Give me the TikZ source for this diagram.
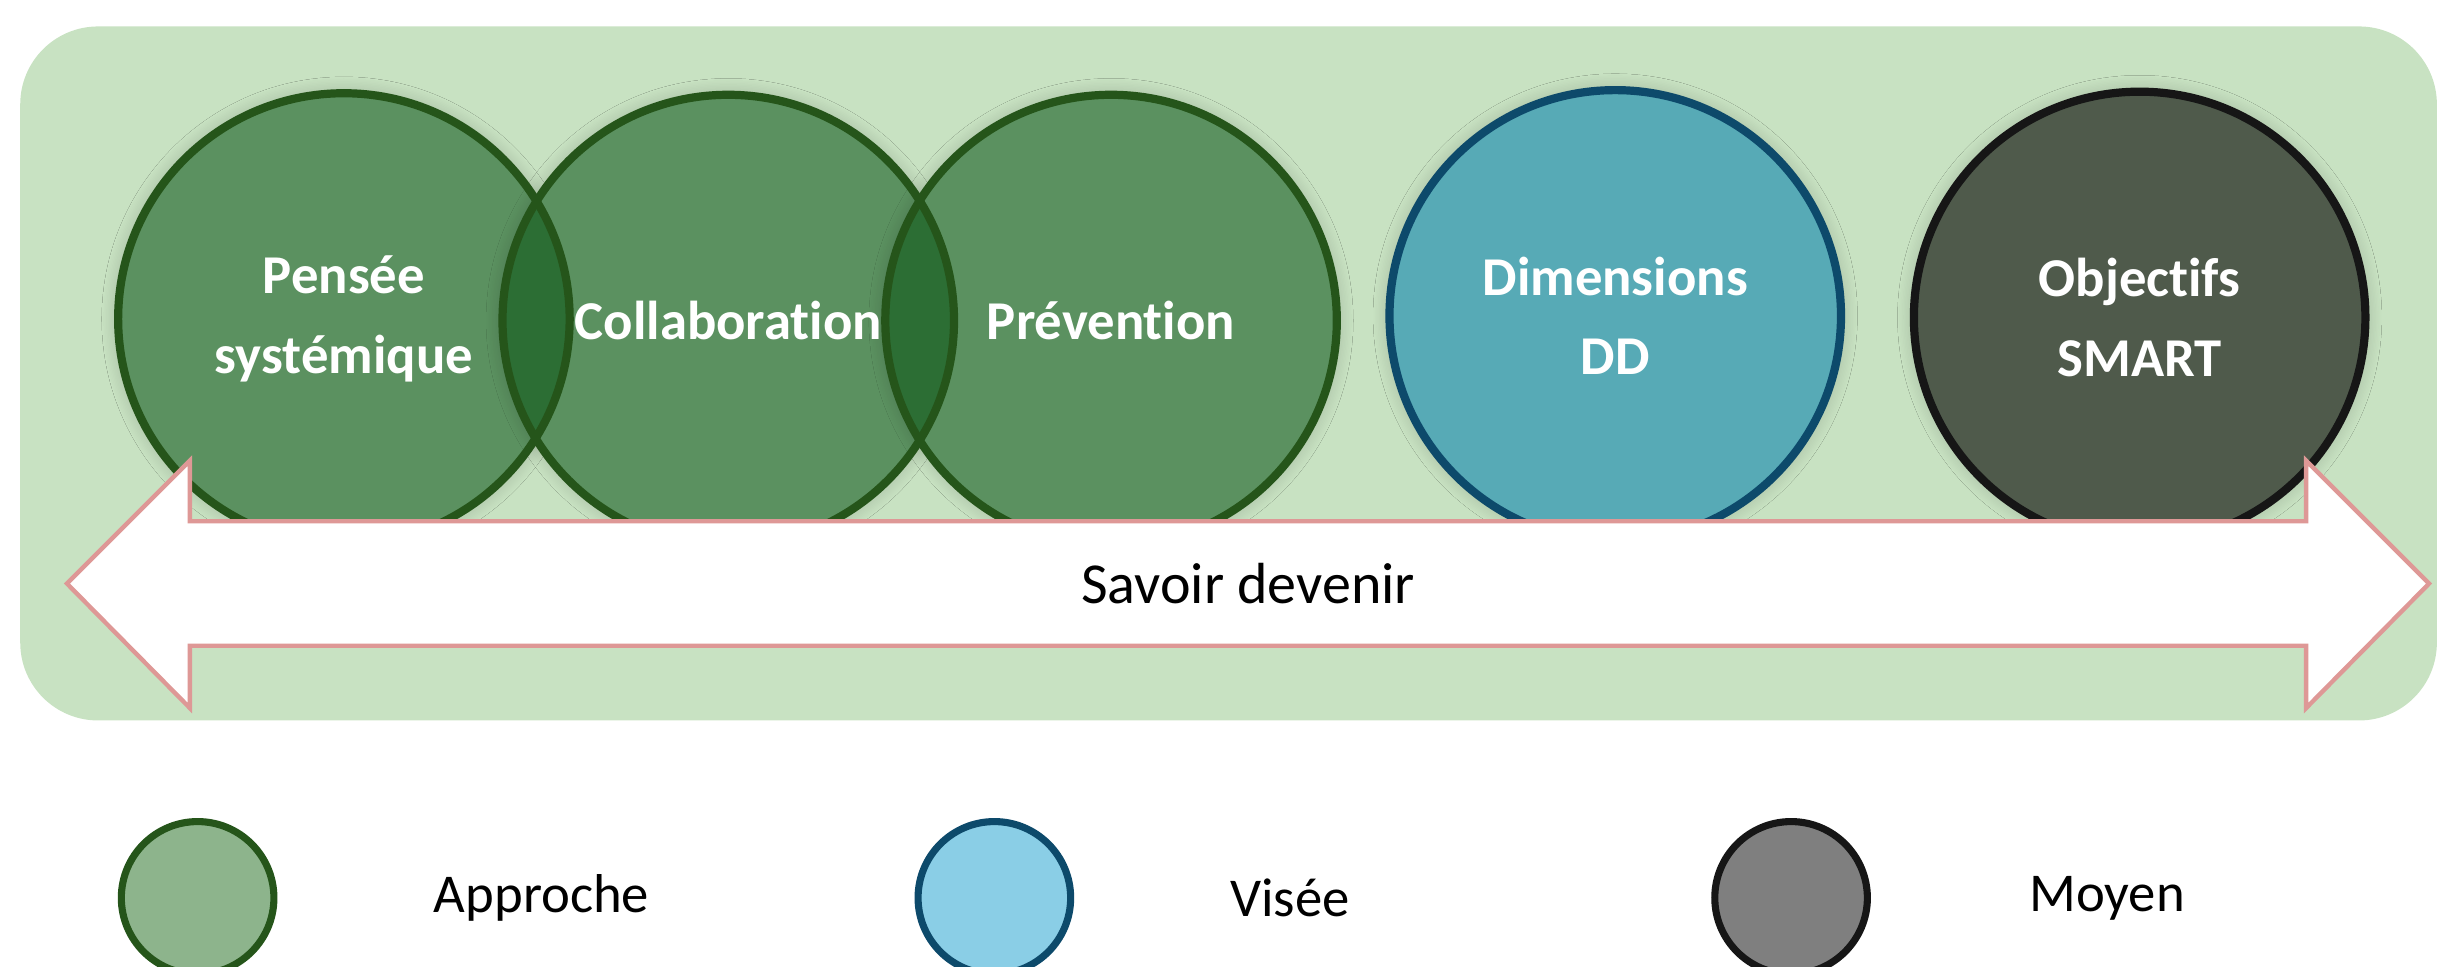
\documentclass[tikz,border=0pt]{standalone}
\usepackage{fontspec}
\setmainfont{Carlito}[RawFeature={-liga;-clig;-calt;-dlig}]
\usetikzlibrary{calc, positioning, shadows.blur}
\definecolor{fondvert}{HTML}{C8E2C2}
\definecolor{approvert}{HTML}{5B9160}
\definecolor{approbord}{HTML}{25551A}
\definecolor{approinter}{HTML}{2C6E34}
\definecolor{viseebleu}{HTML}{57AAB6}
\definecolor{viseebord}{HTML}{0D4A6B}
\definecolor{moyengris}{HTML}{4F5A4B}
\definecolor{moyenbord}{HTML}{161616}
\definecolor{flecherose}{HTML}{DE9896}
\definecolor{legappro}{HTML}{8DB48C}
\definecolor{legvisee}{HTML}{8ACEE6}
\definecolor{legmoyen}{HTML}{7F7F7F}

\begin{document}
\begin{tikzpicture}[x=0.01cm, y=-0.01cm]%{{{
        \useasboundingbox (0, 0) rectangle (1568, 620.8);

        % fond
        \fill [fondvert, rounded corners=0.5cm] (13, 17) rectangle (1566, 463);

        \coordinate (P1) at ( 221, 205);
        \coordinate (P2) at ( 468, 206);
        \coordinate (P3) at ( 714, 206);
        \coordinate (P4) at (1038, 203);
        \coordinate (P5) at (1375, 204);

        \tikzstyle{c} = [circle, minimum size=2.9cm, inner sep=0pt,
            blur shadow={shadow xshift=0pt, shadow yshift=0pt, shadow blur steps=12,
                shadow blur radius=3pt, shadow opacity=22}];
        \foreach \n/\col in {1/approvert, 2/approvert, 3/approvert,
                             4/viseebleu, 5/moyengris}{
            \node [c, fill=\col] (C\n) at (P\n) { };
        }

        % intersections
        \foreach \na/\nb in {1/2, 2/3}{
            \begin{scope}
                \clip (C\na.center) circle (1.45cm);
                \fill [approinter] (C\nb.center) circle (1.45cm);
            \end{scope}
        }

        \foreach \n/\bord in {1/approbord, 2/approbord, 3/approbord,
                              4/viseebord, 5/moyenbord}{
            \draw [\bord, line width=1.5pt] (C\n.center) circle (1.45cm);
        }

        \tikzstyle{t} = [text=white, align=center,
            font=\bfseries\fontsize{10}{14.5}\selectfont];
        \node [t] (T1) at (C1) {Pensée\\systémique};
        \node [t] (T2) at (C2) {Collaboration};
        \node [t] (T3) at (C3) {Prévention};
        \node [t] (T4) at (C4) {Dimensions\\DD};
        \node [t] (T5) at (C5) {Objectifs\\SMART};

        % fleche
        \draw [flecherose, fill=white, line width=0.8pt]
            (43, 375) -- (122, 296) -- (122, 335) -- (1482, 335)
            -- (1482, 296) -- (1561, 375) -- (1482, 455) -- (1482, 415)
            -- (122, 415) -- (122, 455) -- cycle;
        \node [font=\fontsize{10.6}{12}\selectfont] (SD) at (802, 375) {Savoir devenir};

        % legende
        \tikzstyle{l} = [circle, minimum size=0.98cm, inner sep=0pt, line width=1.3pt];
        \foreach \n/\x/\fcol/\bcol/\txt/\tx in {1/127/legappro/approbord/Approche/348,
                                               2/639/legvisee/viseebord/Visée/829,
                                               3/1151/legmoyen/moyenbord/Moyen/1354}{
            \node [l, fill=\fcol, draw=\bcol] (L\n) at (\x, 577) { };
            \node [font=\fontsize{10}{12}\selectfont] (LT\n) at (\tx, 577) {\txt};
        }
    \end{tikzpicture}
\end{document}
